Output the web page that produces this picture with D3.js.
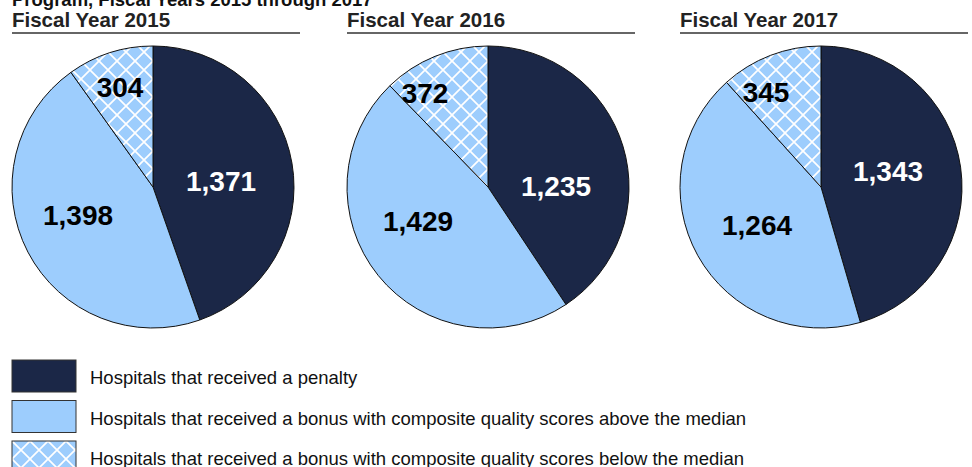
<!DOCTYPE html>
<html>
<head>
<meta charset="utf-8">
<script src="https://cdn.jsdelivr.net/npm/d3@7"></script>
<style>
  body { margin: 0; background: #fff; }
  svg { display: block; font-family: "Liberation Sans", Arial, sans-serif; }
</style>
</head>
<body>
<div id="chart-area"></div>
<script>
// SVG Size
var width = 972,
    height = 467;

// Data
var years = ["Fiscal Year 2015", "Fiscal Year 2016", "Fiscal Year 2017"];
var categories = [
    "Hospitals that received a penalty",
    "Hospitals that received a bonus with composite quality scores above the median",
    "Hospitals that received a bonus with composite quality scores below the median"
];
var penalty = [1371, 1235, 1343];
var bonusAbove = [1398, 1429, 1264];
var bonusBelow = [304, 372, 345];

// label offsets from pie centre (penalty, above, below)
var labelOffsets = [
    [[68, -6], [-75, 28], [-33, -100]],
    [[68, -1], [-70, 34], [-63, -94]],
    [[67, -16], [-64, 38], [-55, -95]]
];

var panelX = [12, 347, 680];
var panelW = 288;
var radius = 141;
var centerY = 187;

var colors = ["#1b2747", "#9dcdfd", "url(#hatch)"];

var svg = d3.select("#chart-area")
    .append("svg")
    .attr("width", width)
    .attr("height", height);

// Hatch pattern
var tile = 18;
var defs = svg.append("defs");
var pat = defs.append("pattern")
    .attr("id", "hatch")
    .attr("patternUnits", "userSpaceOnUse")
    .attr("width", tile)
    .attr("height", tile);
pat.append("rect").attr("width", tile).attr("height", tile).attr("fill", "#9dcdfd");
pat.append("path")
    .attr("d", "M-2,-2L" + (tile + 2) + "," + (tile + 2) + "M" + (tile + 2) + ",-2L-2," + (tile + 2))
    .attr("stroke", "#fff")
    .attr("stroke-width", 1.7);

// Cut-off title
svg.append("text")
    .attr("x", 12)
    .attr("y", 6)
    .attr("font-size", 18.5)
    .attr("font-weight", "bold")
    .attr("fill", "#111")
    .text("Program, Fiscal Years 2015 through 2017");

var pie = d3.pie().sort(null).value(d => d);
var arc = d3.arc().innerRadius(0).outerRadius(radius);

years.forEach(function(year, i) {
    var g = svg.append("g");
    var cx = panelX[i] + 141;

    g.append("text")
        .attr("x", panelX[i])
        .attr("y", 27)
        .attr("font-size", 20.5)
        .attr("font-weight", "bold")
        .attr("fill", "#222")
        .text(year);

    g.append("line")
        .attr("x1", panelX[i])
        .attr("x2", panelX[i] + panelW)
        .attr("y1", 33)
        .attr("y2", 33)
        .attr("stroke", "#333")
        .attr("stroke-width", 1.5);

    var values = [penalty[i], bonusAbove[i], bonusBelow[i]];
    var slices = g.append("g")
        .attr("transform", "translate(" + cx + "," + centerY + ")");

    slices.selectAll("path")
        .data(pie(values))
        .enter()
        .append("path")
        .attr("d", arc)
        .attr("fill", (d, j) => colors[j])
        .attr("stroke", "#111")
        .attr("stroke-width", 1);

    slices.selectAll("text")
        .data(values)
        .enter()
        .append("text")
        .attr("x", (d, j) => labelOffsets[i][j][0])
        .attr("y", (d, j) => labelOffsets[i][j][1])
        .attr("dy", "0.36em")
        .attr("text-anchor", "middle")
        .attr("font-size", 28)
        .attr("font-weight", "bold")
        .attr("fill", (d, j) => j === 0 ? "#fff" : "#000")
        .text(d => d3.format(",")(d));
});

// Legend
var legend = svg.selectAll(".legend")
    .data(categories)
    .enter()
    .append("g")
    .attr("class", "legend")
    .attr("transform", (d, j) => "translate(12," + (360 + j * 40.5) + ")");

legend.append("rect")
    .attr("width", 64)
    .attr("height", 32)
    .attr("fill", (d, j) => colors[j])
    .attr("stroke", "#333")
    .attr("stroke-width", 1);

legend.append("text")
    .attr("x", 78)
    .attr("y", 24)
    .attr("font-size", 18.5)
    .attr("fill", "#111")
    .text(d => d);
</script>
</body>
</html>
